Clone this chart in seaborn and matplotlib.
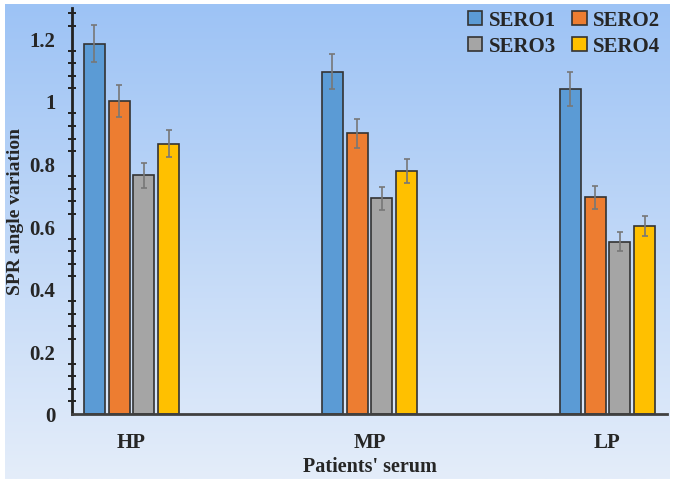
import matplotlib
matplotlib.use("Agg")
import matplotlib.pyplot as plt
import seaborn as sns
import numpy as np
import pandas as pd
from matplotlib.ticker import MultipleLocator

# ---------------------
# Data
# ---------------------
groups = ['HP', 'MP', 'LP']
series = ['SERO1', 'SERO2', 'SERO3', 'SERO4']
sero1 = [1.183, 1.094, 1.038]
sero2 = [1.000, 0.897, 0.692]
sero3 = [0.762, 0.689, 0.551]
sero4 = [0.864, 0.776, 0.601]
err1 = [0.060, 0.055, 0.053]
err2 = [0.050, 0.046, 0.037]
err3 = [0.039, 0.036, 0.030]
err4 = [0.043, 0.039, 0.031]
colors = ['#5B9BD5', '#ED7D31', '#A5A5A5', '#FFC000']

values = [sero1, sero2, sero3, sero4]
errors = [err1, err2, err3, err4]
df = pd.DataFrame({
    'group': [g for s in series for g in groups],
    'series': [s for s in series for g in groups],
    'value': [v for vals in values for v in vals],
})

sns.set_theme(style='white')
plt.rcParams['font.family'] = ['Liberation Serif', 'DejaVu Serif']
plt.rcParams['font.weight'] = 'bold'

fig = plt.figure(figsize=(6.75, 4.85), dpi=100)

# gradient background with thin white border
bg = fig.add_axes([5 / 675, 5 / 485, 665 / 675, 475 / 485], zorder=0)
grad = np.linspace(0, 1, 256).reshape(-1, 1)
top = np.array([157, 195, 245]) / 255
bottom = np.array([228, 237, 250]) / 255
img = top + (bottom - top) * grad
bg.imshow(img.reshape(256, 1, 3), aspect='auto', extent=[0, 1, 0, 1])
bg.set_axis_off()

ax = fig.add_axes([72 / 675, (485 - 415) / 485, 595 / 675, 406 / 485], zorder=1)
ax.patch.set_alpha(0)

sns.barplot(data=df, x='group', y='value', hue='series', order=groups, hue_order=series,
            palette=colors, saturation=1, width=0.42, gap=0.16, errorbar=None,
            edgecolor='#333333', linewidth=1.2, ax=ax)

# error bars on top of each bar
for container, errs in zip(ax.containers, errors):
    xs = [p.get_x() + p.get_width() / 2 for p in container.patches]
    ys = [p.get_height() for p in container.patches]
    ax.errorbar(xs, ys, yerr=errs, fmt='none', ecolor='#777777', elinewidth=1.2,
                capsize=2.5, capthick=1.2, zorder=5)

ax.set_xlim(-0.25, 2.25)
ax.set_ylim(0, 1.297)
ax.yaxis.set_minor_locator(MultipleLocator(0.04))
ax.set_yticks([0, 0.2, 0.4, 0.6, 0.8, 1.0, 1.2])
ax.set_yticklabels(['0', '0.2', '0.4', '0.6', '0.8', '1', '1.2'])
ax.tick_params(axis='y', which='major', direction='inout', length=12, width=1.6,
               labelsize=15, pad=6, color='#222222')
ax.tick_params(axis='y', which='minor', direction='inout', length=6, width=1.4,
               color='#222222', left=True)
ax.tick_params(axis='x', length=0, labelsize=15, pad=13)
for lbl in ax.get_xticklabels() + ax.get_yticklabels():
    lbl.set_fontweight('bold')

for s in ['top', 'right']:
    ax.spines[s].set_visible(False)
ax.spines['left'].set_color('#222222')
ax.spines['left'].set_linewidth(2)
ax.spines['bottom'].set_color('#404040')
ax.spines['bottom'].set_linewidth(2)

ax.set_xlabel("Patients' serum", fontsize=14.5, fontweight='bold', labelpad=3)
ax.set_ylabel('SPR angle variation', fontsize=14, fontweight='bold', labelpad=4)

# legend rows: SERO1 SERO2 / SERO3 SERO4
handles, labels = ax.get_legend_handles_labels()
order = [0, 2, 1, 3]
ax.legend([handles[i] for i in order], [labels[i] for i in order], loc='upper right',
          ncol=2, frameon=False, handlelength=0.7, handleheight=0.7, handletextpad=0.3,
          columnspacing=0.8, labelspacing=0.3, borderaxespad=0,
          bbox_to_anchor=(1.003, 1.015), prop={'weight': 'bold', 'size': 15})

fig.savefig('out.png', dpi=100)
